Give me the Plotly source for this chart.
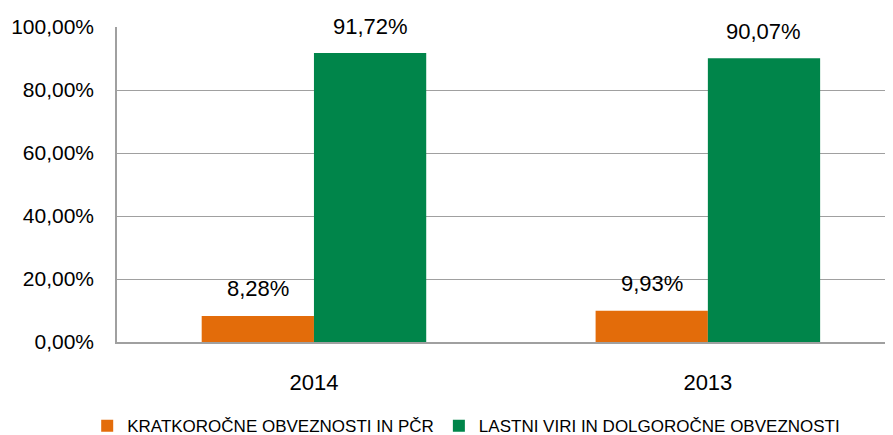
import plotly.graph_objects as go

categories = ["2014", "2013"]
series_names = ["KRATKOROČNE OBVEZNOSTI IN PČR", "LASTNI VIRI IN DOLGOROČNE OBVEZNOSTI"]
short_term = [8.28, 9.93]
long_term = [91.72, 90.07]
colors = ["#E36C0A", "#00854A"]
y_ticks = [0, 20, 40, 60, 80, 100]
y_tick_labels = ["0,00%", "20,00%", "40,00%", "60,00%", "80,00%", "100,00%"]

font_family = "Liberation Sans, Arial, sans-serif"
bargap = 0.43
bar_w = (1 - bargap) / 2

fig = go.Figure()
all_series = [short_term, long_term]
for name, vals, col in zip(series_names, all_series, colors):
    fig.add_trace(go.Bar(
        x=categories, y=vals, name=name, marker=dict(color=col, line=dict(width=0)),
    ))

# data labels placed above each bar (derived from data)
for si, vals in enumerate(all_series):
    off = (si - 0.5) * bar_w
    for ci, v in enumerate(vals):
        fig.add_annotation(
            x=ci + off, y=v, xref="x", yref="y",
            text=f"{v:.2f}%".replace(".", ","), showarrow=False,
            yanchor="middle", yshift=27,
            font=dict(size=22, color="#000000", family=font_family),
        )

fig.update_layout(
    width=885, height=427,
    margin=dict(l=109, r=0, t=19, b=93, autoexpand=False),
    paper_bgcolor="white", plot_bgcolor="white",
    barmode="group", bargap=bargap, bargroupgap=0,
    font=dict(family=font_family, size=22, color="#000000"),
    showlegend=True,
    legend=dict(orientation="h", x=0.45, xanchor="center", y=-0.21, yanchor="top",
                font=dict(size=17, family=font_family),
                traceorder="normal"),
)
fig.update_xaxes(type="category", range=[-0.5, 1.47], showline=True, linecolor="#A0A0A0",
                 linewidth=1.5, ticks="", showgrid=False, ticklabelstandoff=20,
                 tickfont=dict(size=22), automargin=False)
fig.update_yaxes(range=[0, 100], tickvals=y_ticks, ticktext=y_tick_labels,
                 showline=True, linecolor="#A0A0A0", linewidth=1.5, showgrid=True,
                 gridcolor="#A0A0A0", gridwidth=1, zeroline=False, ticks="",
                 ticklabelstandoff=17, tickfont=dict(size=21), automargin=False)

fig.write_html("out.html")
